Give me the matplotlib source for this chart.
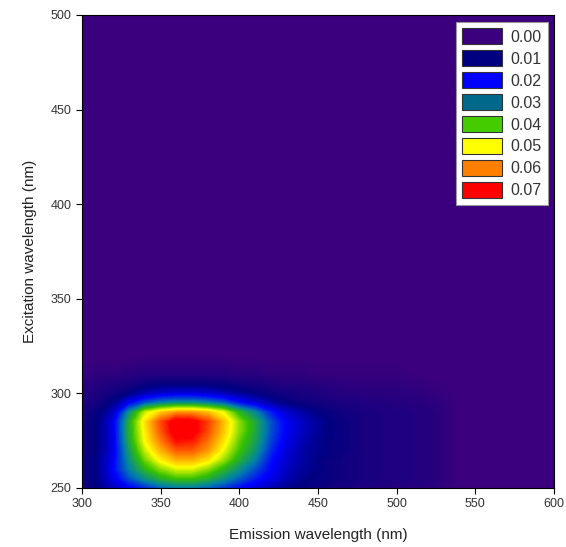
import matplotlib

matplotlib.use("Agg")
import matplotlib.pyplot as plt  # noqa: E402
import numpy as np  # noqa: E402
from matplotlib.colors import LinearSegmentedColormap, Normalize  # noqa: E402
from matplotlib.patches import Patch  # noqa: E402

# Emission (x) and excitation (y) grid, nm
emission = [300, 310, 320, 330, 340, 350, 360, 370, 380, 390, 400,
            410, 420, 430, 440, 450, 460, 480, 500, 520, 540, 600]
excitation = [250, 255, 260, 265, 270, 275, 280, 285, 290, 295, 300, 305, 310, 320, 500]

# Fluorescence intensity, one row per excitation wavelength
intensity = [
    [0.006, 0.010, 0.015, 0.019, 0.023, 0.027, 0.029, 0.029, 0.027, 0.024, 0.020,
     0.017, 0.014, 0.011, 0.009, 0.008, 0.007, 0.005, 0.004, 0.003, 0.0, 0.0],
    [0.007, 0.011, 0.018, 0.026, 0.032, 0.037, 0.040, 0.040, 0.037, 0.032, 0.027,
     0.022, 0.018, 0.014, 0.011, 0.009, 0.008, 0.006, 0.005, 0.004, 0.0, 0.0],
    [0.007, 0.011, 0.020, 0.030, 0.038, 0.044, 0.048, 0.048, 0.044, 0.038, 0.032,
     0.026, 0.020, 0.015, 0.012, 0.010, 0.008, 0.006, 0.005, 0.004, 0.0, 0.0],
    [0.007, 0.011, 0.019, 0.032, 0.043, 0.051, 0.056, 0.056, 0.052, 0.045, 0.037,
     0.030, 0.021, 0.016, 0.013, 0.010, 0.008, 0.006, 0.005, 0.004, 0.0, 0.0],
    [0.007, 0.010, 0.018, 0.034, 0.047, 0.056, 0.063, 0.063, 0.058, 0.049, 0.040,
     0.033, 0.023, 0.017, 0.013, 0.011, 0.009, 0.006, 0.005, 0.004, 0.0, 0.0],
    [0.007, 0.010, 0.018, 0.036, 0.050, 0.060, 0.069, 0.068, 0.061, 0.052, 0.042,
     0.035, 0.025, 0.018, 0.014, 0.011, 0.009, 0.006, 0.005, 0.004, 0.0, 0.0],
    [0.007, 0.010, 0.018, 0.037, 0.051, 0.063, 0.073, 0.072, 0.064, 0.054, 0.044,
     0.036, 0.026, 0.019, 0.015, 0.012, 0.009, 0.006, 0.005, 0.004, 0.0, 0.0],
    [0.007, 0.010, 0.018, 0.037, 0.052, 0.064, 0.073, 0.072, 0.065, 0.055, 0.044,
     0.036, 0.026, 0.019, 0.015, 0.012, 0.009, 0.006, 0.005, 0.004, 0.0, 0.0],
    [0.006, 0.009, 0.015, 0.032, 0.047, 0.054, 0.058, 0.058, 0.055, 0.049, 0.038,
     0.031, 0.022, 0.016, 0.013, 0.010, 0.008, 0.006, 0.005, 0.004, 0.0, 0.0],
    [0.005, 0.007, 0.011, 0.019, 0.026, 0.030, 0.032, 0.032, 0.030, 0.027, 0.021,
     0.017, 0.013, 0.010, 0.008, 0.007, 0.006, 0.005, 0.004, 0.003, 0.0, 0.0],
    [0.004, 0.005, 0.007, 0.010, 0.014, 0.016, 0.017, 0.017, 0.016, 0.014, 0.012,
     0.010, 0.008, 0.007, 0.006, 0.005, 0.004, 0.003, 0.003, 0.002, 0.0, 0.0],
    [0.003, 0.004, 0.005, 0.006, 0.008, 0.009, 0.009, 0.009, 0.009, 0.008, 0.007,
     0.006, 0.005, 0.004, 0.004, 0.003, 0.003, 0.002, 0.002, 0.001, 0.0, 0.0],
    [0.001, 0.002, 0.002, 0.003, 0.004, 0.004, 0.004, 0.004, 0.004, 0.004, 0.003,
     0.003, 0.002, 0.002, 0.002, 0.001, 0.001, 0.001, 0.001, 0.0, 0.0, 0.0],
    [0.0] * 22,
    [0.0] * 22,
]

# Legend levels and their colours
levels = [0.00, 0.01, 0.02, 0.03, 0.04, 0.05, 0.06, 0.07]
level_colors = ["#3a007d", "#000080", "#0000ff", "#00688b",
                "#44cc00", "#ffff00", "#ff8000", "#ff0000"]
# the filled map blends blue into green a bit brighter than the legend swatch
map_colors = ["#3a007d", "#000080", "#0000ff", "#0080a8",
              "#33c000", "#ffff00", "#ff8000", "#ff0000"]

plt.rcParams["font.family"] = ["Liberation Sans", "DejaVu Sans"]

cmap = LinearSegmentedColormap.from_list(
    "eem", [(v / levels[-1], c) for v, c in zip(levels, map_colors)])
norm = Normalize(vmin=levels[0], vmax=levels[-1])

fig = plt.figure(figsize=(5.66, 5.47), dpi=100)
ax = fig.add_axes([0.1449, 0.1079, 0.8339, 0.8647])

ax.contourf(emission, excitation, np.array(intensity),
            levels=np.linspace(0, 0.075, 151), cmap=cmap, norm=norm,
            extend="both", antialiased=False)

ax.set_xlim(300, 600)
ax.set_ylim(250, 500)
ax.set_xticks(range(300, 601, 50))
ax.set_yticks(range(250, 501, 50))
ax.tick_params(direction="out", length=4, width=0.8, color="black",
               labelsize=9, labelcolor="#333333", top=False, right=False)
for side in ax.spines.values():
    side.set_linewidth(0.8)

ax.set_xlabel("Emission wavelength (nm)", fontsize=11, color="#222222", labelpad=13)
ax.set_ylabel("Excitation wavelength (nm)", fontsize=11, color="#222222", labelpad=10)

handles = [Patch(facecolor=c, edgecolor="#333333", linewidth=0.8) for c in level_colors]
leg = ax.legend(handles, [f"{v:.2f}" for v in levels], loc="upper right",
                bbox_to_anchor=(0.987, 0.985), borderaxespad=0, fontsize=11.5,
                handlelength=2.5, handleheight=1.15, labelspacing=0.35,
                handletextpad=0.5, borderpad=0.4, fancybox=False,
                framealpha=1, edgecolor="#999999")
for t in leg.get_texts():
    t.set_color("#333333")
leg.get_frame().set_linewidth(0.8)

fig.savefig("out.png", dpi=100)
